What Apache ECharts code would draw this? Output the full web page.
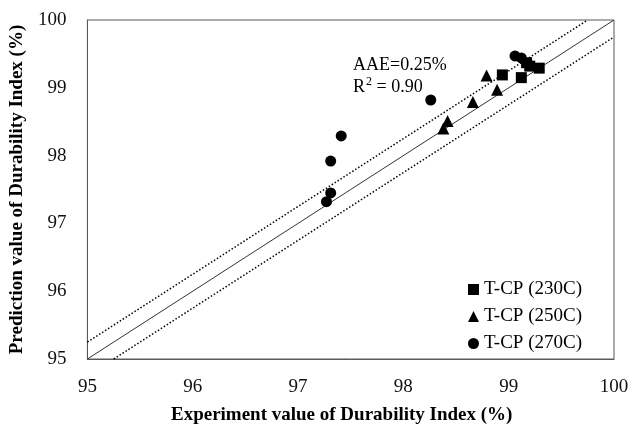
<!DOCTYPE html>
<html>
<head>
<meta charset="utf-8">
<script src="https://cdn.jsdelivr.net/npm/echarts@6/dist/echarts.min.js"></script>
<style>
  html, body { margin: 0; padding: 0; background: #fff; }
  #main { width: 643px; height: 430px; }
</style>
</head>
<body>
<div id="main"></div>
<script>
'use strict'

// experiment vs prediction, durability index (%)
let tcp230 = [[98.94, 99.19], [99.12, 99.15], [99.17, 99.37], [99.20, 99.32], [99.29, 99.29]];
let tcp250 = [[98.79, 99.18], [98.89, 98.97], [98.66, 98.79], [98.42, 98.51], [98.38, 98.40]];
let tcp270 = [[98.26, 98.82], [97.41, 98.29], [97.31, 97.92], [97.31, 97.45], [97.27, 97.32],
              [99.06, 99.47], [99.12, 99.44]];

// reference lines y = x and y = x +/- 0.25
let lineEqual = [[95, 95], [100, 100]];
let lineUpper = [[95, 95.25], [99.75, 100]];
let lineLower = [[95.25, 95], [100, 99.75]];

let seriesNames = ['T-CP (230C)', 'T-CP (250C)', 'T-CP (270C)'];
let axisTicks = [95, 96, 97, 98, 99, 100];

let font = '"Liberation Serif", "Times New Roman", serif';
let myChart = echarts.init(document.getElementById('main'));

let refLine = function (data, style) {
    return {
        type: 'line',
        data: data,
        symbol: 'none',
        silent: true,
        lineStyle: style,
        z: 1
    };
};

let scatter = function (name, data, symbol, size) {
    return {
        name: name,
        type: 'scatter',
        data: data,
        symbol: symbol,
        symbolSize: size,
        itemStyle: { color: '#000', opacity: 1 },
        z: 3
    };
};

let axisBase = {
    type: 'value',
    min: axisTicks[0],
    max: axisTicks[axisTicks.length - 1],
    interval: 1,
    nameLocation: 'middle',
    axisLine: { show: true, lineStyle: { color: '#595959' } },
    axisTick: { show: false },
    splitLine: { show: false }
};

myChart.setOption({
    backgroundColor: '#fff',
    animation: false,
    textStyle: { fontFamily: font },
    grid: {
        left: 86, right: 29, top: 20, bottom: 66,
        show: true,
        borderColor: '#595959',
        borderWidth: 1
    },
    legend: {
        orient: 'vertical',
        right: 56,
        top: 275,
        itemWidth: 11,
        itemHeight: 11,
        itemGap: 8,
        data: [
            { name: seriesNames[0], icon: 'rect' },
            { name: seriesNames[1], icon: 'triangle' },
            { name: seriesNames[2], icon: 'circle' }
        ],
        textStyle: { fontFamily: font, fontSize: 19, color: '#000' }
    },
    xAxis: Object.assign({}, axisBase, {
        name: 'Experiment value of Durability Index (%)',
        nameGap: 47,
        nameTextStyle: { fontFamily: font, fontSize: 19, fontWeight: 'bold', color: '#000', padding: [0, 18, 0, 0] },
        axisLabel: { fontFamily: font, fontSize: 19, color: '#111', margin: 19 }
    }),
    yAxis: Object.assign({}, axisBase, {
        name: 'Prediction value of Durability Index (%)',
        nameGap: 52,
        nameTextStyle: { fontFamily: font, fontSize: 19, fontWeight: 'bold', color: '#000' },
        axisLabel: { fontFamily: font, fontSize: 19, color: '#111', margin: 21 }
    }),
    graphic: [
        { type: 'text', x: 353, y: 65, style: { text: 'AAE=0.25%', font: '18px ' + font, fill: '#000', textVerticalAlign: 'middle' } },
        { type: 'text', x: 353, y: 87, style: { text: 'R', font: '18px ' + font, fill: '#000', textVerticalAlign: 'middle' } },
        { type: 'text', x: 366, y: 82, style: { text: '2', font: '12px ' + font, fill: '#000', textVerticalAlign: 'middle' } },
        { type: 'text', x: 372, y: 87, style: { text: ' = 0.90', font: '18px ' + font, fill: '#000', textVerticalAlign: 'middle' } }
    ],
    series: [
        refLine(lineEqual, { color: '#333', width: 1, type: 'solid' }),
        refLine(lineUpper, { color: '#000', width: 1.5, type: [1.5, 2] }),
        refLine(lineLower, { color: '#000', width: 1.5, type: [1.5, 2] }),
        scatter(seriesNames[0], tcp230, 'rect', 11),
        scatter(seriesNames[1], tcp250, 'triangle', 12),
        scatter(seriesNames[2], tcp270, 'circle', 11)
    ]
});
</script>
</body>
</html>
